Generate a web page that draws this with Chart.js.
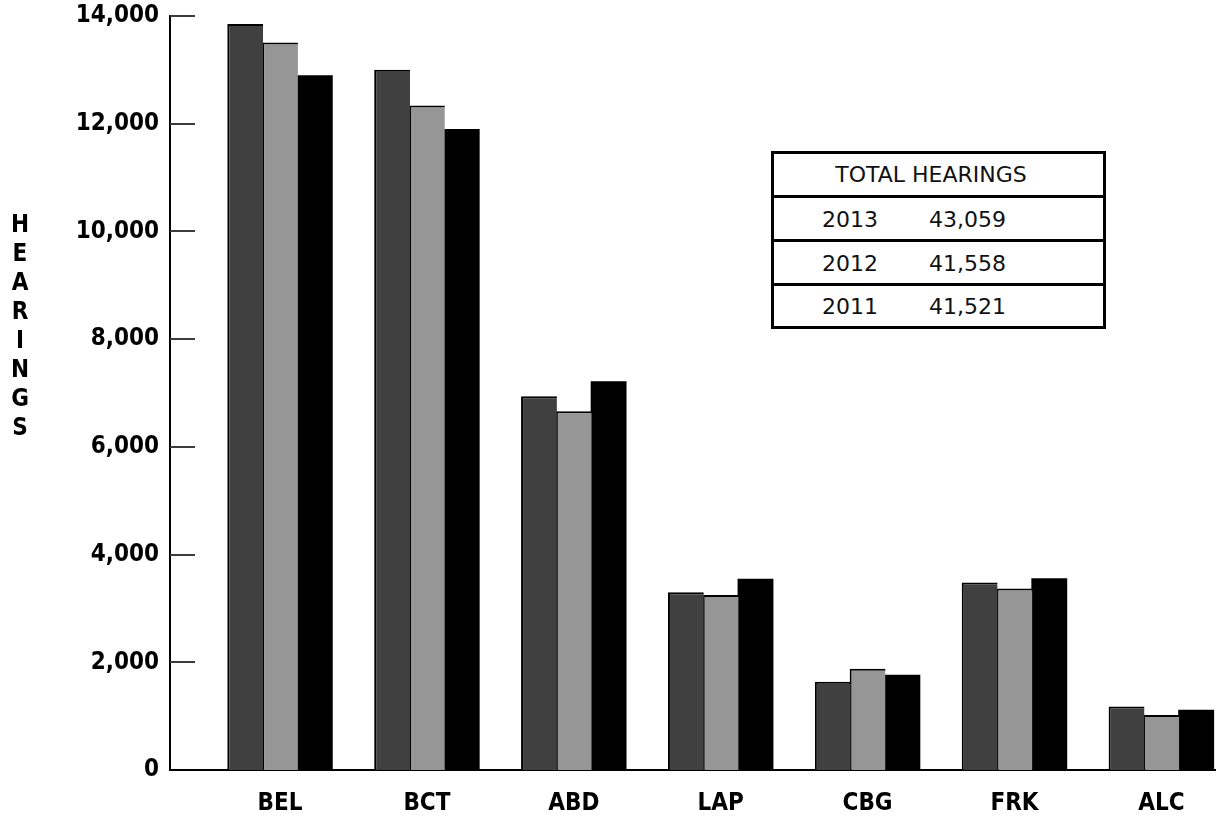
<!DOCTYPE html>
<html>
<head>
<meta charset="utf-8">
<script src="https://cdn.jsdelivr.net/npm/chart.js@4.4.1/dist/chart.umd.min.js"></script>
<style>
  html, body { margin: 0; padding: 0; background: #fff; }
  #wrap { position: relative; width: 1216px; height: 819px; overflow: hidden; }
  #chart { position: absolute; left: 0; top: 0; }
  #totals {
    position: absolute; left: 771px; top: 151px; width: 335px; height: 178px;
    box-sizing: border-box; border: 3px solid #000; background: #fff;
    font-family: "DejaVu Sans", sans-serif; font-size: 22px; color: #111;
  }
  #totals .row { position: relative; box-sizing: border-box; height: 41px; line-height: 43px; }
  #totals .row + .row { border-top: 3px solid #000; height: 44px; }
  #totals .row:last-child { height: 43px; line-height: 41px; }
  #totals .head { text-align: center; padding-right: 15px; line-height: 42px; }
  #totals .yr { position: absolute; left: 48px; top: 0; }
  #totals .val { position: absolute; left: 155px; top: 0; }
</style>
</head>
<body>
<div id="wrap">
  <canvas id="chart" width="1216" height="819"></canvas>
  <div id="totals"></div>
</div>
<script>
// Hearings per court, three years
const categories = ['BEL', 'BCT', 'ABD', 'LAP', 'CBG', 'FRK', 'ALC'];
const hearings2013 = [13850, 13000, 6940, 3300, 1640, 3480, 1180];
const hearings2012 = [13510, 12340, 6660, 3250, 1880, 3370, 1020];
const hearings2011 = [12900, 11900, 7220, 3550, 1770, 3560, 1120];
const yTickValues = [0, 2000, 4000, 6000, 8000, 10000, 12000, 14000];
const yAxisTitle = 'HEARINGS';

// Totals table
const totalsTitle = 'TOTAL HEARINGS';
const totalYears = ['2013', '2012', '2011'];
const totalValues = ['43,059', '41,558', '41,521'];

const BOLD_FONT = '"DejaVu Sans Condensed", "DejaVu Sans", sans-serif';

// build the totals box
(function buildTotals() {
  const box = document.getElementById('totals');
  const head = document.createElement('div');
  head.className = 'row head';
  head.textContent = totalsTitle;
  box.appendChild(head);
  totalYears.forEach((yr, i) => {
    const row = document.createElement('div');
    row.className = 'row';
    const a = document.createElement('span'); a.className = 'yr'; a.textContent = yr;
    const b = document.createElement('span'); b.className = 'val'; b.textContent = totalValues[i];
    row.appendChild(a); row.appendChild(b);
    box.appendChild(row);
  });
})();

const toPoints = arr => arr.map((v, i) => ({ x: i, y: v }));

// short tick marks inside the plot and the stacked vertical axis title
const hearingsDecor = {
  id: 'hearingsDecor',
  afterDraw(chart) {
    const { ctx, chartArea, scales: { y } } = chart;
    ctx.save();
    ctx.strokeStyle = '#3c3c3c';
    ctx.lineWidth = 2;
    yTickValues.forEach(v => {
      if (v === 0) return;
      const py = Math.round(y.getPixelForValue(v));
      ctx.beginPath();
      ctx.moveTo(chartArea.left, py);
      ctx.lineTo(chartArea.left + 25, py);
      ctx.stroke();
    });
    ctx.fillStyle = '#000';
    ctx.font = 'bold 24px ' + BOLD_FONT;
    ctx.textAlign = 'center';
    ctx.textBaseline = 'middle';
    [...yAxisTitle].forEach((ch, i) => ctx.fillText(ch, 20, 226 + i * 28.9));
    ctx.restore();
  }
};

const barBorder = { top: 2, left: 2, right: 0, bottom: 0 };

new Chart(document.getElementById('chart'), {
  type: 'bar',
  data: {
    datasets: [
      { label: '2013', data: toPoints(hearings2013), backgroundColor: '#404040', borderColor: '#000', borderWidth: barBorder, borderSkipped: false },
      { label: '2012', data: toPoints(hearings2012), backgroundColor: '#969696', borderColor: '#000', borderWidth: barBorder, borderSkipped: false },
      { label: '2011', data: toPoints(hearings2011), backgroundColor: '#000000', borderColor: '#000', borderWidth: 0, borderSkipped: false }
    ]
  },
  options: {
    responsive: false,
    animation: false,
    devicePixelRatio: 1,
    layout: { padding: { top: 16, left: 0, right: 0, bottom: 0 } },
    plugins: { legend: { display: false }, tooltip: { enabled: false } },
    datasets: { bar: { categoryPercentage: 0.711, barPercentage: 1.03 } },
    scales: {
      x: {
        type: 'linear',
        offset: false,
        min: -0.749,
        max: 6.372,
        grid: { display: false, drawTicks: false, offset: false },
        border: { display: true, color: '#000', width: 2 },
        afterBuildTicks: scale => { scale.ticks = categories.map((c, i) => ({ value: i })); },
        afterFit: scale => { scale.height = 49; },
        ticks: {
          autoSkip: false,
          maxRotation: 0,
          padding: 19,
          color: '#000',
          font: { family: BOLD_FONT, weight: 'bold', size: 24 },
          callback: v => categories[v]
        }
      },
      y: {
        min: 0,
        max: 14000,
        grid: { display: false, drawTicks: false },
        border: { display: true, color: '#000', width: 2 },
        afterBuildTicks: scale => { scale.ticks = yTickValues.map(v => ({ value: v })); },
        afterFit: scale => { scale.width = 170; scale.paddingTop = 0; scale.paddingBottom = 0; },
        ticks: {
          padding: 11,
          color: '#000',
          font: { family: BOLD_FONT, weight: 'bold', size: 24 },
          callback: v => v.toLocaleString('en-US')
        }
      }
    }
  },
  plugins: [hearingsDecor]
});
</script>
</body>
</html>
